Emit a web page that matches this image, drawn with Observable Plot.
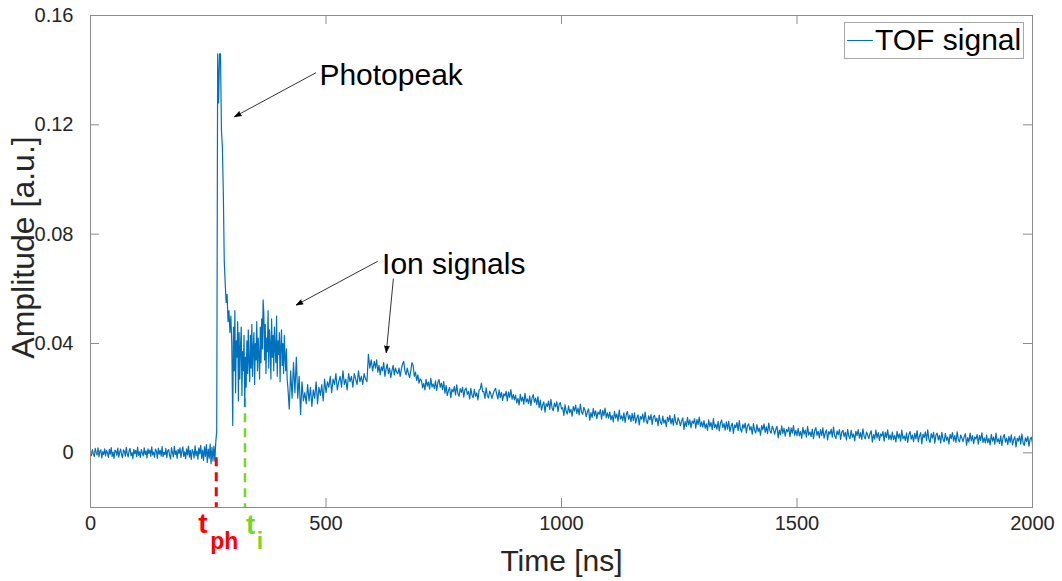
<!DOCTYPE html>
<html>
<head>
<meta charset="utf-8">
<script src="https://cdn.jsdelivr.net/npm/d3@7"></script>
<script src="https://cdn.jsdelivr.net/npm/@observablehq/plot@0.6"></script>
<style>
  html, body { margin: 0; padding: 0; background: #fff; }
  #wrap { position: relative; width: 1062px; height: 581px; font-family: "Liberation Sans", Arial, Helvetica, sans-serif; }
  #legend { position: absolute; left: 844px; top: 22px; width: 180px; height: 37px; border: 1px solid #a8a8a8; background: #fff; box-sizing: border-box; }
  #legend svg { position: absolute; left: 0; top: 0; }
</style>
</head>
<body>
<div id="wrap"></div>
<script>
const baselineStart = 0, baselineStep = 2;
const baselineValues = [
  0.5, -1.0, 1.2, -0.3, -1.4, 1.6, 0.2, -0.8, 1.8, -1.5, 0.6, 1.1, -1.9, 0.4, -0.6, 1.5, -1.1, 0.9, 0.0, -1.7,
  1.3, -0.5, 1.9, -1.3, 0.3, -2.0, 1.0, 0.6, -0.9, 1.7, -1.6, 0.2, 1.4, -0.7, -1.8, 1.1, 0.5, -1.2, 2.0, -0.4,
  -1.5, 0.8, 1.6, -1.0, 0.1, -2.1, 1.3, -0.3, 0.9, -1.4, 2.1, -0.9, 0.4, -1.7, 1.2, 0.0, -1.1, 1.8, -0.6, 0.7,
  -1.9, 1.5, -0.2, 1.0, -1.3, 2.2, -0.8, 0.3, -1.6, 1.4, 0.6, -2.0, 1.7, -0.5, 0.9, -1.2, 2.3, -1.4, 0.2, -0.7,
  1.6, -1.8, 0.8, 1.2, -1.0, -2.2, 1.9, 0.1, -1.5, 2.4, -0.6, 0.7, -2.0, 1.3, -0.2, 1.8, -1.7, 0.5, 2.2, -1.3,
  0.4, -2.1, 1.5, -0.8, 2.5, -1.6, 0.9, -2.4, 1.2, 0.3, -1.9, 2.6, -1.0, 0.6, -2.3, 1.8, -0.4, 2.7, -2.0, 1.0,
  -2.8, 2.2, -1.2, 3.0, -3.5, 1.4, -2.0, 3.2, -4.0, 2.0, -3.0
];
const peakStart = 262, peakStep = 2;
const peakValues = [2.5, -3, 4, 8, 146, 128, 146, 146, 118, 112, 95, 70, 62, 55, 58, 48, 52, 44, 50, 40];
const ionEarlyStart = 302, ionEarlyStep = 1.5;
const ionEarlyValues = [
  10, 46, 30, 52, 22, 41, 35, 48, 19, 44, 27, 39, 46, 21, 37, 30, 43, 17, 35,
  24, 41, 29, 45, 33, 26, 43, 31, 47, 28, 38, 44, 25, 40, 34, 48, 30, 42, 36, 27, 46, 33, 49, 38,
  56, 51,
  34, 47, 29, 42, 37, 52, 31, 45, 40, 27, 49, 35, 43, 30, 46, 38, 33, 50, 28, 41, 36, 44, 26, 39, 45, 32, 40, 29, 43, 35, 30, 38, 27,
  24
];
const ionLateStart = 422, ionLateStep = 3;
const ionLateValues = [
  16, 30, 20,
  33, 22, 35, 20, 28, 14, 26, 19,
  22, 18, 25, 19, 24, 17, 23, 20, 26, 18, 24, 21, 25, 19, 27, 22, 26,
  24, 28, 22, 27, 25, 29, 23, 26, 28, 24, 30, 25, 27, 23, 29, 26, 28, 24, 29, 27, 25, 30, 26, 28, 25, 29, 27, 26,
  36, 31, 34, 30
];
const tailStart = 602.5, tailStep = 2.5;
const tailValues = [
  33.5, 31.0, 34.0, 29.5, 32.0, 28.5, 31.5, 30.0, 33.0, 28.0, 30.5, 32.5, 29.0, 31.0, 27.5, 30.0, 32.0, 28.5, 31.0, 29.5,
  29.0, 31.0, 28.0, 30.5, 32.5, 33.5, 30.0, 28.5, 31.0, 29.0, 27.5, 30.0, 33.0, 32.0, 28.0, 29.5, 26.5, 28.5, 25.5, 27.0,
  26.6, 23.8, 25.4, 23.0, 26.9, 24.4, 25.9, 23.3, 27.3, 24.1, 25.2, 23.5, 26.3, 22.8, 25.7, 26.8, 24.0, 25.5, 23.1, 26.1,
  21.8, 24.6, 20.9, 22.8, 23.9, 20.2, 23.3, 22.3, 24.2, 21.2, 24.9, 21.7, 20.7, 23.5, 22.1, 24.0, 20.4, 23.1, 23.7, 21.4,
  22.5, 19.7, 23.6, 21.1, 20.2, 23.2, 20.7, 21.9, 19.4, 22.9, 23.3, 25.5, 22.4, 22.4, 19.9, 23.8, 21.0, 20.1, 22.6, 21.5,
  19.9, 21.7, 22.8, 23.6, 21.4, 19.7, 23.0, 20.2, 22.1, 19.2, 21.6, 20.8, 22.5, 19.0, 22.2, 20.3, 23.1, 19.6, 21.3, 19.4,
  21.1, 18.3, 19.9, 17.5, 21.4, 18.9, 20.4, 17.8, 21.8, 18.6, 19.7, 18.0, 20.8, 17.3, 20.2, 21.3, 18.5, 20.0, 17.6, 20.6,
  16.5, 19.3, 15.6, 17.5, 18.6, 14.9, 18.0, 17.0, 18.9, 15.9, 19.6, 16.4, 15.4, 18.2, 16.8, 18.7, 15.1, 17.8, 18.4, 16.1,
  16.5, 13.7, 17.6, 15.1, 14.2, 17.2, 14.7, 15.9, 13.4, 16.9, 15.3, 17.5, 14.4, 16.4, 13.9, 17.8, 15.0, 14.1, 16.6, 15.5,
  13.2, 15.0, 16.1, 11.9, 14.7, 13.0, 16.3, 13.5, 15.4, 12.5, 14.9, 14.1, 15.8, 12.3, 15.5, 13.6, 16.4, 12.9, 14.6, 12.7,
  14.9, 12.1, 13.7, 11.3, 15.2, 12.7, 14.2, 11.6, 15.6, 12.4, 13.5, 11.8, 14.6, 11.1, 14.0, 15.1, 12.3, 13.8, 11.4, 14.4,
  11.8, 14.6, 10.9, 12.8, 13.9, 10.2, 13.3, 12.3, 14.2, 11.2, 14.9, 11.7, 10.7, 13.5, 12.1, 14.0, 10.4, 13.1, 13.7, 11.4,
  12.7, 9.9, 13.8, 11.3, 10.4, 13.4, 10.9, 12.1, 9.6, 13.1, 11.5, 13.7, 10.6, 12.6, 10.1, 14.0, 11.2, 10.3, 12.8, 11.7,
  9.9, 11.7, 12.8, 8.6, 11.4, 9.7, 13.0, 10.2, 12.1, 9.2, 11.6, 10.8, 12.5, 9.0, 12.2, 10.3, 13.1, 9.6, 11.3, 9.4,
  11.8, 9.0, 10.6, 8.2, 12.1, 9.6, 11.1, 8.5, 12.5, 9.3, 10.4, 8.7, 11.5, 8.0, 10.9, 12.0, 9.2, 10.7, 8.3, 11.3,
  8.7, 11.5, 7.8, 9.7, 10.8, 7.1, 10.2, 9.2, 11.1, 8.1, 11.8, 8.6, 7.6, 10.4, 9.0, 10.9, 7.3, 10.0, 10.6, 8.3,
  9.6, 6.8, 10.7, 8.2, 7.3, 10.3, 7.8, 9.0, 6.5, 10.0, 8.4, 10.6, 7.5, 9.5, 7.0, 10.9, 8.1, 7.2, 9.7, 8.6,
  6.8, 8.6, 9.7, 5.5, 8.3, 6.6, 9.9, 7.1, 9.0, 6.1, 8.5, 7.7, 9.4, 5.9, 9.1, 7.2, 10.0, 6.5, 8.2, 6.3,
  9.0, 6.2, 7.8, 5.4, 9.3, 6.8, 8.3, 5.7, 9.7, 6.5, 7.6, 5.9, 8.7, 5.2, 8.1, 9.2, 6.4, 7.9, 5.5, 8.5,
  6.3, 9.1, 5.4, 7.3, 8.4, 4.7, 7.8, 6.8, 8.7, 5.7, 9.4, 6.2, 5.2, 8.0, 6.6, 8.5, 4.9, 7.6, 8.2, 5.9,
  7.5, 4.7, 8.6, 6.1, 5.2, 8.2, 5.7, 6.9, 4.4, 7.9, 6.3, 8.5, 5.4, 7.4, 4.9, 8.8, 6.0, 5.1, 7.6, 6.5,
  5.2, 7.0, 8.1, 3.9, 6.7, 5.0, 8.3, 5.5, 7.4, 4.5, 6.9, 6.1, 7.8, 4.3, 7.5, 5.6, 8.4, 4.9, 6.6, 4.7,
  7.6, 4.8, 6.4, 4.0, 7.9, 5.4, 6.9, 4.3, 8.3, 5.1, 6.2, 4.5, 7.3, 3.8, 6.7, 7.8, 5.0, 6.5, 4.1, 7.1,
  5.1, 8.1, 4.0, 6.1, 7.4, 3.3, 6.8, 5.6, 7.7, 4.5, 8.4, 5.0, 3.8, 7.0, 5.4, 7.5, 3.5, 6.6, 7.2, 4.7,
  6.4, 3.6, 7.5, 5.0, 4.1, 7.1, 4.6, 5.8, 3.3, 6.8, 5.2, 7.4, 4.3, 6.3, 3.8, 7.7, 4.9, 4.0, 6.5, 5.4,
  4.1, 5.9, 7.0, 2.8, 5.6, 3.9, 7.2, 4.4, 6.3, 3.4, 5.8, 5.0, 6.7, 3.2, 6.4, 4.5, 7.3, 3.8, 5.5, 3.6,
  6.5, 3.7, 5.3, 2.9, 6.8, 4.3, 5.8, 3.2, 7.2, 4.0, 5.1, 3.4, 6.2, 2.7, 5.6, 6.7, 3.9, 5.4, 3.0, 6.0,
  3.8, 6.6, 2.9, 4.8, 5.9, 2.2, 5.3, 4.3, 6.2, 3.2, 6.9, 3.7, 2.7, 5.5, 4.1, 6.0, 2.4, 5.1, 5.7, 3.4
];

// ---- Axes ----
const xTicks = [0, 500, 1000, 1500, 2000];
const yTicks = [0, 0.04, 0.08, 0.12, 0.16];
const yTickLabels = ["0", "0.04", "0.08", "0.12", "0.16"];

// ---- Markers (time in ns) ----
const photopeakTime = [267];
const ionTime = [328];
const markerTexts = [
  {x: 229, y: -0.0292, text: "t", color: "#ff0000", size: 28},
  {x: 254, y: -0.0352, text: "ph", color: "#ff0000", size: 23},
  {x: 330, y: -0.0297, text: "t", color: "#77d42a", size: 28},
  {x: 353, y: -0.0352, text: "i", color: "#77d42a", size: 23}
];

// ---- Annotations ----
const annotationTexts = [
  {x: 486, y: 0.1347, text: "Photopeak"},
  {x: 619, y: 0.0655, text: "Ion signals"}
];
const annotationArrows = [
  {x1: 478, y1: 0.139, x2: 306, y2: 0.123},
  {x1: 609, y1: 0.070, x2: 437, y2: 0.0541},
  {x1: 643, y1: 0.0636, x2: 628, y2: 0.0367}
];

function segment(start, step, values) {
  return values.map((v, i) => ({t: start + i * step, a: v / 1000}));
}
const signal = [
  ...segment(baselineStart, baselineStep, baselineValues),
  ...segment(peakStart, peakStep, peakValues),
  ...segment(ionEarlyStart, ionEarlyStep, ionEarlyValues),
  ...segment(ionLateStart, ionLateStep, ionLateValues),
  ...segment(tailStart, tailStep, tailValues)
];

const W = 1062, H = 581, mT = 15, mR = 30, mB = 74, mL = 90;
const innerW = W - mL - mR, innerH = H - mT - mB;
const tickLen = 9;
const axisGray = "#8c8c8c";
const font = "Liberation Sans, Arial, Helvetica, sans-serif";

const chart = Plot.plot({
  width: W, height: H,
  marginTop: mT, marginRight: mR, marginBottom: mB, marginLeft: mL,
  x: {domain: [0, 2000]},
  y: {domain: [-0.02, 0.16]},
  style: {fontFamily: font, background: "#fff", color: "#262626", overflow: "visible"},
  marks: [
    Plot.ruleX(photopeakTime, {x: d => d, y1: -0.0018, y2: -0.02, stroke: "#ff0000", strokeWidth: 3, strokeDasharray: "9,6"}),
    Plot.ruleX(ionTime, {x: d => d, y1: 0.0198, y2: -0.02, stroke: "#77d42a", strokeWidth: 2.5, strokeDasharray: "9,6"}),
    Plot.line(signal, {x: "t", y: "a", stroke: "#0072BD", strokeWidth: 1.2}),
    Plot.frame({stroke: axisGray}),
    Plot.tickX(xTicks, {x: d => d, insetTop: innerH - tickLen, stroke: axisGray}),
    Plot.tickX(xTicks, {x: d => d, insetBottom: innerH - tickLen, stroke: axisGray}),
    Plot.tickY(yTicks, {y: d => d, insetRight: innerW - tickLen, stroke: axisGray}),
    Plot.tickY(yTicks, {y: d => d, insetLeft: innerW - tickLen, stroke: axisGray}),
    Plot.axisX(xTicks, {tickSize: 0, tickPadding: 8, fontSize: 20, label: null, tickFormat: d => String(d)}),
    Plot.axisY(yTicks, {tickSize: 0, tickPadding: 17, fontSize: 20, label: null, tickFormat: d => yTickLabels[yTicks.indexOf(d)]}),
    Plot.text(["Time [ns]"], {text: d => d, frameAnchor: "bottom", dy: 63, lineAnchor: "bottom", fontSize: 30, fill: "#262626"}),
    Plot.text(["Amplitude [a.u.]"], {text: d => d, frameAnchor: "left", textAnchor: "middle", dx: -57, dy: -14, rotate: -90, lineAnchor: "bottom", fontSize: 32, fill: "#262626"}),
    Plot.text(markerTexts, {x: "x", y: "y", text: "text", fill: d => d.color, fontSize: d => d.size, fontWeight: "bold", textAnchor: "start", lineAnchor: "bottom"}),
    Plot.arrow(annotationArrows, {x1: "x1", y1: "y1", x2: "x2", y2: "y2", stroke: "#000", fill: "#000", strokeWidth: 0.8, headLength: 13, headAngle: 40}),
    Plot.text(annotationTexts, {x: "x", y: "y", text: "text", textAnchor: "start", lineAnchor: "bottom", fontSize: 30, fill: "#000"})
  ]
});

const wrap = document.getElementById("wrap");
wrap.appendChild(chart);

// Legend overlay
const legend = document.createElement("div");
legend.id = "legend";
legend.innerHTML = `<svg width="178" height="35"><line x1="2" x2="28" y1="17.5" y2="17.5" stroke="#0072BD" stroke-width="1"></line><text x="30" y="27" font-size="30" font-family="${font}" fill="#000">TOF signal</text></svg>`;
wrap.appendChild(legend);
</script>
</body>
</html>
